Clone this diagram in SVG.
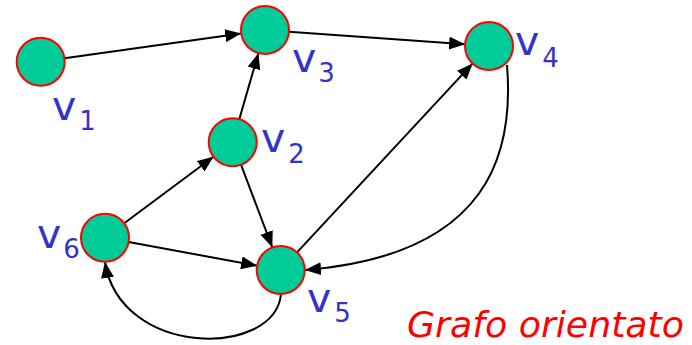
<svg xmlns="http://www.w3.org/2000/svg" width="692" height="345" viewBox="0 0 692 345">
<defs>
<marker id="arr" markerUnits="userSpaceOnUse" markerWidth="16" markerHeight="13" refX="16" refY="6.5" orient="auto">
<path d="M0,0 L16,6.5 L0,13 z" fill="#000"/>
</marker>
<style>
.node circle{fill:#00cc99;stroke:#ff0000;stroke-width:2}
.lbl{font-family:"DejaVu Sans",Verdana,sans-serif;fill:#3333cc;font-size:41px}
.sub{font-size:26px}
.edge{stroke:#000;stroke-width:2;fill:none;marker-end:url(#arr)}
</style>
</defs>
<rect width="692" height="345" fill="#fff"/>
<g id="edges">
<line class="edge" x1="64.5" y1="58.3" x2="241.2" y2="33.4"/>
<line class="edge" x1="289" y1="31.7" x2="465.1" y2="44.3"/>
<line class="edge" x1="239.3" y1="119.2" x2="258.4" y2="53.1"/>
<line class="edge" x1="241.1" y1="164.8" x2="272.3" y2="247.5"/>
<line class="edge" x1="124.2" y1="223.3" x2="213.5" y2="156.7"/>
<line class="edge" x1="128.6" y1="242" x2="257.1" y2="265.7"/>
<line class="edge" x1="297" y1="252.4" x2="472.7" y2="63.4"/>
<path class="edge" d="M507 65 C514 150, 492 255, 305 270"/>
<path class="edge" d="M281 294 C275 358, 120 358, 105 262"/>
</g>
<g id="v1" class="node"><circle cx="40.7" cy="61.7" r="24"/><text class="lbl" x="52" y="120">v<tspan class="sub" dx="3" dy="10">1</tspan></text></g>
<g id="v2" class="node"><circle cx="232.7" cy="142.3" r="24"/><text class="lbl" x="261" y="152">v<tspan class="sub" dx="3" dy="11">2</tspan></text></g>
<g id="v3" class="node"><circle cx="265" cy="30" r="24"/><text class="lbl" x="292" y="72">v<tspan class="sub" dx="2" dy="10">3</tspan></text></g>
<g id="v4" class="node"><circle cx="489" cy="46" r="24"/><text class="lbl" x="515" y="55">v<tspan class="sub" dx="3" dy="12">4</tspan></text></g>
<g id="v5" class="node"><circle cx="280.7" cy="270" r="24"/><text class="lbl" x="307" y="312">v<tspan class="sub" dx="3" dy="10">5</tspan></text></g>
<g id="v6" class="node"><circle cx="105" cy="237.7" r="24"/><text class="lbl" x="37" y="248">v<tspan class="sub" dx="2" dy="10">6</tspan></text></g>
<text x="407" y="337" font-family="DejaVu Sans,Verdana,sans-serif" font-style="italic" font-size="35" textLength="277" lengthAdjust="spacingAndGlyphs" fill="#ff0000">Grafo orientato</text>
</svg>
